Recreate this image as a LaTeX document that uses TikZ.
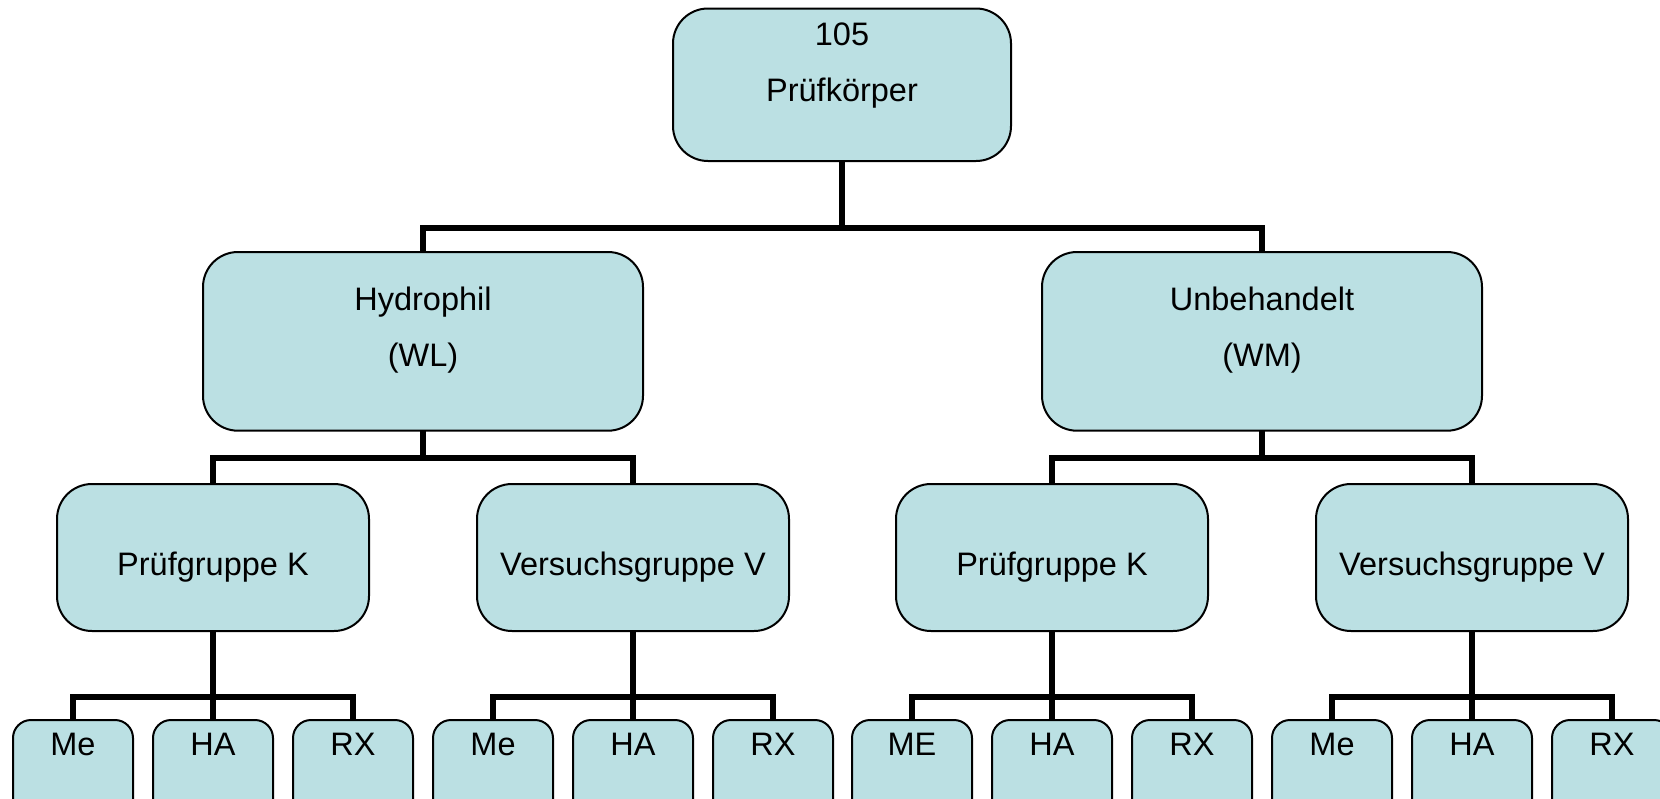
\documentclass[tikz,border=0pt]{standalone}
\usepackage{fontspec}
\setmainfont{Liberation Sans}
\usetikzlibrary{positioning}
\definecolor{boxfill}{HTML}{BBE0E3}

\begin{document}
\begin{tikzpicture}[x=1pt,y=-1pt,node distance=20pt,
    box/.style={draw,line width=2pt,fill=boxfill,rounded corners=35pt,inner sep=0pt,outer sep=0pt,align=center,font=\fontsize{32.5}{56}\selectfont},
    group/.style={box,minimum width=312pt,text height=91pt,text depth=56pt},
    leaf/.style={box,rounded corners=18pt,minimum width=120pt,text height=35pt,text depth=80pt},
    conn/.style={line width=6pt}]
    \useasboundingbox (0,0) rectangle (1660,798);
    \clip (0,0) rectangle (1660,798);
    % top of the tree
    \node[box,minimum width=338pt,text height=37.2pt,text depth=115.3pt] (root) at (842,84.75) {\begin{tabular}[t]{@{}c@{}}105\\Prüfkörper\end{tabular}};
    \node[box,minimum width=440pt,text height=58.7pt,text depth=120pt,below=91pt of root,xshift=-419pt] (hyd) {\begin{tabular}[t]{@{}c@{}}Hydrophil\\(WL)\end{tabular}};
    \node[box,minimum width=440pt,text height=58.7pt,text depth=120pt,below=91pt of root,xshift=420pt] (unb) {\begin{tabular}[t]{@{}c@{}}Unbehandelt\\(WM)\end{tabular}};
    % groups
    \node[group,below=53.3pt of hyd,xshift=-210pt] (hydk) {Prüfgruppe K};
    \node[group,below=53.3pt of hyd,xshift=210pt] (hydv) {Versuchsgruppe V};
    \node[group,below=53.3pt of unb,xshift=-210pt] (unbk) {Prüfgruppe K};
    \node[group,below=53.3pt of unb,xshift=210pt] (unbv) {Versuchsgruppe V};
    % methods
    \node[leaf,below=89pt of hydk] (hydkha) {HA};
    \node[leaf,left=of hydkha] (hydkme) {Me};
    \node[leaf,right=of hydkha] (hydkrx) {RX};
    \node[leaf,below=89pt of hydv] (hydvha) {HA};
    \node[leaf,left=of hydvha] (hydvme) {Me};
    \node[leaf,right=of hydvha] (hydvrx) {RX};
    \node[leaf,below=89pt of unbk] (unbkha) {HA};
    \node[leaf,left=of unbkha] (unbkme) {ME};
    \node[leaf,right=of unbkha] (unbkrx) {RX};
    \node[leaf,below=89pt of unbv] (unbvha) {HA};
    \node[leaf,left=of unbvha] (unbvme) {Me};
    \node[leaf,right=of unbvha] (unbvrx) {RX};
    % connectors
    \draw[conn] (root.south) -- ++(0,67) -| (hyd.north);
    \draw[conn] (root.south) -- ++(0,67) -| (unb.north);
    \draw[conn] (hyd.south) -- ++(0,27.3) -| (hydk.north);
    \draw[conn] (hyd.south) -- ++(0,27.3) -| (hydv.north);
    \draw[conn] (unb.south) -- ++(0,27.3) -| (unbk.north);
    \draw[conn] (unb.south) -- ++(0,27.3) -| (unbv.north);
    \draw[conn] (hydk.south) -- ++(0,66) -| (hydkme.north);
    \draw[conn] (hydk.south) -- (hydkha.north);
    \draw[conn] (hydk.south) -- ++(0,66) -| (hydkrx.north);
    \draw[conn] (hydv.south) -- ++(0,66) -| (hydvme.north);
    \draw[conn] (hydv.south) -- (hydvha.north);
    \draw[conn] (hydv.south) -- ++(0,66) -| (hydvrx.north);
    \draw[conn] (unbk.south) -- ++(0,66) -| (unbkme.north);
    \draw[conn] (unbk.south) -- (unbkha.north);
    \draw[conn] (unbk.south) -- ++(0,66) -| (unbkrx.north);
    \draw[conn] (unbv.south) -- ++(0,66) -| (unbvme.north);
    \draw[conn] (unbv.south) -- (unbvha.north);
    \draw[conn] (unbv.south) -- ++(0,66) -| (unbvrx.north);
\end{tikzpicture}
\end{document}
